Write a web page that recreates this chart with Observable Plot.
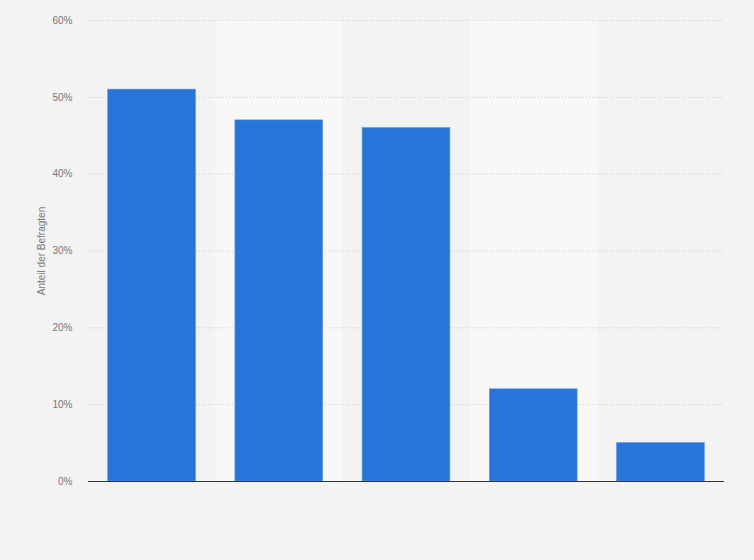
<!DOCTYPE html>
<html>
<head>
<meta charset="utf-8">
<script src="https://cdn.jsdelivr.net/npm/d3@7"></script>
<script src="https://cdn.jsdelivr.net/npm/@observablehq/plot@0.6"></script>
<style>
  html, body { margin: 0; padding: 0; background: #f3f3f3; }
  #chart { width: 754px; height: 560px; }
</style>
</head>
<body>
<div id="chart"></div>
<script>
const categories = ["Kategorie 1", "Kategorie 2", "Kategorie 3", "Kategorie 4", "Kategorie 5"];
const values = [51, 47, 46, 12, 5];
const yTicks = [0, 10, 20, 30, 40, 50, 60];
const yLabel = "Anteil der Befragten";

const data = categories.map((c, i) => ({ category: c, value: values[i] }));
const bands = categories.filter((c, i) => i % 2 === 1).map(c => ({ category: c }));

const chart = Plot.plot({
  width: 754,
  height: 560,
  marginLeft: 88,
  marginRight: 30,
  marginTop: 20,
  marginBottom: 79,
  style: { background: "#f3f3f3", fontFamily: "'Liberation Sans', Arial, sans-serif", fontSize: "10px", color: "#777" },
  x: { domain: categories, paddingInner: 0.31, paddingOuter: 0.155, round: false, axis: null },
  y: { domain: [0, 60], ticks: yTicks, tickFormat: d => d + "%", tickSize: 0, tickPadding: 16, label: yLabel, labelAnchor: "center", labelOffset: 51, labelArrow: "none" },
  marks: [
    Plot.barY(bands, { x: "category", y1: 0, y2: 60, fill: "#f8f8f8", insetLeft: -19.7, insetRight: -19.7 }),
    Plot.gridY(yTicks, { stroke: "#c8c8c8", strokeOpacity: 1, strokeDasharray: "1,2" }),
    Plot.barY(data, { x: "category", y: "value", fill: "#2775d9", stroke: "#5a96e6", strokeWidth: 0.6 }),
    Plot.ruleY([0], { stroke: "#333", strokeWidth: 1.2 })
  ]
});
document.getElementById("chart").appendChild(chart);
</script>
</body>
</html>
